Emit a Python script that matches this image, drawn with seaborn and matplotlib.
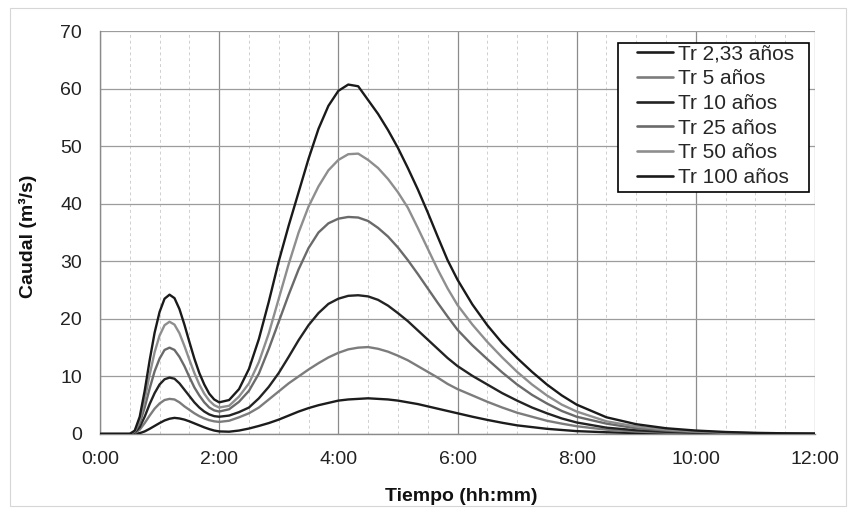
import matplotlib
matplotlib.use("Agg")
import matplotlib.pyplot as plt
from matplotlib.lines import Line2D
from matplotlib.patches import Rectangle
import pandas as pd
import seaborn as sns

# ---- data (minutes, m3/s) ----
time_min = [0, 10, 20,
            30, 35, 40, 45, 50, 55, 60, 65, 70, 75, 80, 85, 90, 95, 100, 105, 110, 115, 120,
            130, 140, 150, 160, 170, 180, 190, 200, 210, 220, 230, 240,
            250, 260, 270, 280, 290, 300, 310, 320, 330, 340, 350, 360,
            375, 390, 405, 420, 435, 450, 465, 480,
            510, 540, 570, 600, 630, 660, 690, 720]

q_tr233 = [0, 0, 0,
           0, 0.03, 0.15, 0.45, 0.9, 1.4, 1.9, 2.35, 2.65, 2.8, 2.7, 2.5, 2.2, 1.85, 1.5, 1.15, 0.85, 0.6, 0.45,
           0.4, 0.6, 0.95, 1.4, 1.9, 2.5, 3.2, 3.9, 4.5, 5.0, 5.4, 5.8,
           6.0, 6.1, 6.2, 6.1, 6.0, 5.8, 5.5, 5.2, 4.8, 4.4, 4.0, 3.6,
           3.0, 2.45, 1.95, 1.5, 1.2, 0.9, 0.7, 0.5,
           0.3, 0.17, 0.1, 0.06, 0.04, 0.02, 0.01, 0.01]

q_tr5 = [0, 0, 0,
         0, 0.15, 0.75, 1.9, 3.2, 4.4, 5.3, 5.9, 6.1, 6.0, 5.5, 4.8, 4.2, 3.6, 3.1, 2.7, 2.4, 2.2, 2.1,
         2.3, 2.9, 3.6, 4.6, 6.0, 7.4, 8.8, 10.0, 11.2, 12.3, 13.3, 14.1,
         14.7, 15.0, 15.1, 14.8, 14.3, 13.6, 12.8, 11.8, 10.8, 9.8, 8.7, 7.8,
         6.7, 5.6, 4.6, 3.7, 3.0, 2.3, 1.8, 1.35,
         0.75, 0.42, 0.24, 0.14, 0.08, 0.05, 0.03, 0.02]

q_tr10 = [0, 0, 0,
          0, 0.25, 1.2, 3.0, 5.2, 7.1, 8.6, 9.5, 9.8, 9.6, 8.8, 7.7, 6.6, 5.5, 4.6, 3.9, 3.4, 3.1, 3.0,
          3.2, 3.8, 4.6, 6.2, 8.2, 10.6, 13.4, 16.3, 18.9, 21.0, 22.6, 23.5,
          24.0, 24.1, 23.9, 23.3, 22.3, 21.0, 19.6, 18.0, 16.4, 14.8, 13.2, 11.8,
          10.1, 8.6, 7.1, 5.8, 4.6, 3.6, 2.7, 2.0,
          1.1, 0.65, 0.38, 0.22, 0.13, 0.08, 0.05, 0.03]

q_tr25 = [0, 0, 0,
          0, 0.4, 1.9, 4.6, 7.9, 10.9, 13.1, 14.6, 15.0, 14.6, 13.4, 11.8, 9.9, 8.1, 6.7, 5.5, 4.6, 4.1, 3.9,
          4.3, 5.6, 7.5, 10.5, 14.8, 19.5, 24.2, 28.6, 32.3, 35.0, 36.6, 37.4,
          37.7, 37.6, 37.0, 35.8, 34.3, 32.4, 30.2, 27.8, 25.3, 22.8, 20.4, 18.1,
          15.4, 13.0, 10.7, 8.6, 6.8, 5.3, 4.0, 3.0,
          1.8, 1.0, 0.6, 0.35, 0.2, 0.12, 0.07, 0.04]

q_tr50 = [0, 0, 0,
          0, 0.5, 2.4, 6.0, 10.3, 14.2, 17.1, 18.9, 19.5, 19.0, 17.5, 15.3, 12.9, 10.6, 8.6, 7.0, 5.8, 5.0, 4.6,
          4.9, 6.5, 8.8, 12.5, 17.5, 23.5, 29.5, 35.0, 39.5, 43.0, 45.8, 47.6,
          48.6, 48.7, 47.6, 46.2, 44.3, 42.0, 39.3, 35.8, 32.2, 28.6, 25.3, 22.4,
          19.0, 16.0, 13.3, 10.8, 8.6, 6.7, 5.1, 3.9,
          2.2, 1.3, 0.75, 0.45, 0.26, 0.15, 0.09, 0.05]

q_tr100 = [0, 0, 0,
           0, 0.6, 3.0, 7.5, 12.8, 17.6, 21.2, 23.5, 24.2, 23.6, 21.7, 19.0, 16.0, 13.1, 10.6, 8.6, 7.0, 6.0, 5.5,
           5.9, 7.8, 11.3, 16.5, 23.0, 30.0, 36.2, 42.0, 47.8, 53.0, 57.0, 59.6,
           60.7, 60.4, 58.0, 55.6, 52.8, 49.7, 46.2, 42.5, 38.5, 34.3, 30.2, 26.8,
           22.5, 18.9, 15.8, 13.2, 10.8, 8.6, 6.7, 5.1,
           2.9, 1.7, 1.0, 0.6, 0.35, 0.2, 0.12, 0.07]

series_labels = ["Tr 2,33 años", "Tr 5 años", "Tr 10 años",
                 "Tr 25 años", "Tr 50 años", "Tr 100 años"]
series_values = [q_tr233, q_tr5, q_tr10, q_tr25, q_tr50, q_tr100]
series_colors = ["#1c1c1c", "#7c7c7c", "#232323", "#6a6a6a", "#8e8e8e", "#1a1a1a"]

x_tick_hours = [0, 2, 4, 6, 8, 10, 12]
x_tick_labels = ["0:00", "2:00", "4:00", "6:00", "8:00", "10:00", "12:00"]
y_ticks = [0, 10, 20, 30, 40, 50, 60, 70]

# ---- long-form table ----
rows = []
for lab, vals in zip(series_labels, series_values):
    for t, q in zip(time_min, vals):
        rows.append({"hours": t / 60.0, "caudal": q, "serie": lab})
df = pd.DataFrame(rows)

sns.set_theme(style="white")
plt.rcParams["font.family"] = ["Liberation Sans", "DejaVu Sans"]

fig = plt.figure(figsize=(8.52, 5.14), dpi=100)
fig.patch.set_facecolor("white")
ax = fig.add_axes([100 / 852, 1 - 434 / 514, 715 / 852, 403 / 514])

# faint outer chart frame (as in the scanned chart)
fig.patches.append(Rectangle((10 / 852, 8 / 514), 836 / 852, 498 / 514,
                             transform=fig.transFigure, fill=False,
                             edgecolor="#d6d6d6", linewidth=0.8, zorder=0))

sns.lineplot(data=df, x="hours", y="caudal", hue="serie",
             hue_order=series_labels,
             palette=dict(zip(series_labels, series_colors)),
             linewidth=1.7, legend=False, ax=ax, zorder=3,
             solid_joinstyle="round", solid_capstyle="round")

ax.set_xlim(0, 12)
ax.set_ylim(0, 70)
ax.set_xticks(x_tick_hours)
ax.set_xticklabels(x_tick_labels)
ax.set_yticks(y_ticks)
ax.set_xticks([h / 2 for h in range(0, 25)], minor=True)

ax.grid(True, which="major", axis="y", color="#9c9c9c", linewidth=0.9)
ax.grid(True, which="major", axis="x", color="#8c8c8c", linewidth=0.9)
ax.grid(True, which="minor", axis="x", color="#cfcfcf", linewidth=0.7,
        linestyle=(0, (3, 3)))

for side in ["top", "right"]:
    ax.spines[side].set_visible(False)
for side in ["left", "bottom"]:
    ax.spines[side].set_color("#8a8a8a")
    ax.spines[side].set_linewidth(1.0)

ax.tick_params(axis="both", which="major", labelsize=14, colors="#222222",
               length=4, color="#8a8a8a")
ax.tick_params(axis="x", which="major", pad=8)
ax.tick_params(axis="y", which="major", pad=9)
ax.tick_params(axis="x", which="minor", length=0)

ax.set_xlabel("Tiempo (hh:mm)", fontsize=14, fontweight="bold", color="#111111")
ax.set_ylabel("Caudal (m³/s)", fontsize=14, fontweight="bold", color="#111111")
ax.xaxis.set_label_coords(0.505, -0.135)
ax.yaxis.set_label_coords(-0.088, 0.49)

# legend frame drawn separately (wider side padding than top/bottom)
ax.add_patch(Rectangle((0.7245, 0.6005), 0.2671, 0.3697, transform=ax.transAxes,
                       facecolor="white", edgecolor="black", linewidth=1.2,
                       zorder=4, clip_on=False))
handles = [Line2D([0], [0], color=c, linewidth=1.9) for c in series_colors]
leg = ax.legend(handles, series_labels, loc="upper left",
                bbox_to_anchor=(0.751, 0.966), frameon=False,
                fontsize=15, handlelength=1.75, handletextpad=0.2,
                labelspacing=0.27, borderpad=0, borderaxespad=0)
leg.set_zorder(5)

fig.savefig("out.png", dpi=100, facecolor="white")
